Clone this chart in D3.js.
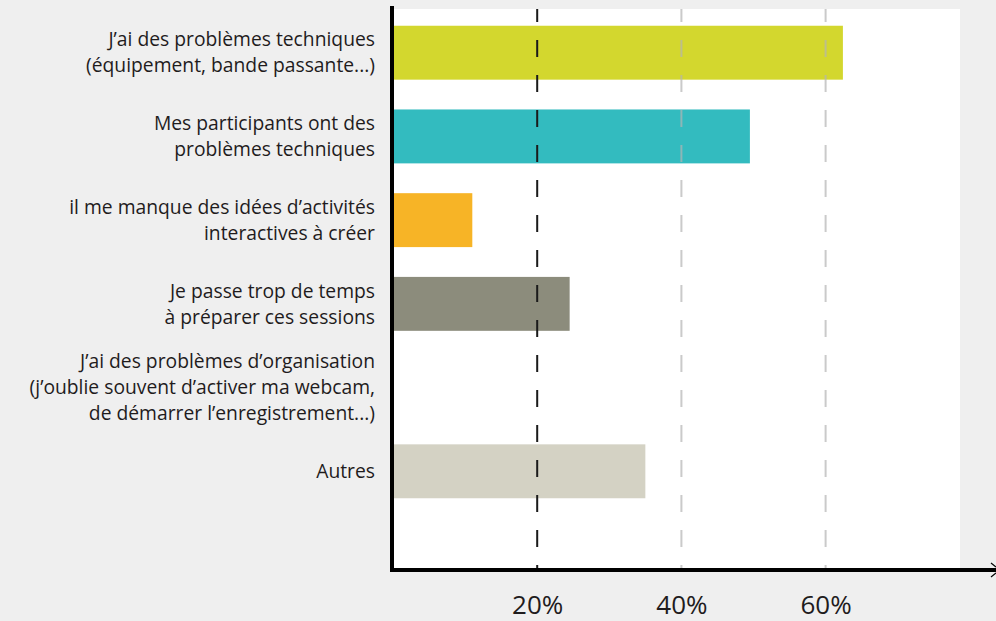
<!DOCTYPE html>
<html>
<head>
<meta charset="utf-8">
<script src="https://cdn.jsdelivr.net/npm/d3@7"></script>
<style>
body { margin: 0; background: #efefef; }
svg { display: block; font-family: "Open Sans", sans-serif; }
.label { font-size: 19.3px; fill: #1f1c1d; }
.xaxis text { font-size: 26px; fill: #1f1c1d; font-family: "Open Sans", sans-serif; }
</style>
</head>
<body>
<svg width="996" height="621"></svg>
<script>
var categories = [
  "J’ai des problèmes techniques\n(équipement, bande passante...)",
  "Mes participants ont des\nproblèmes techniques",
  "il me manque des idées d’activités\ninteractives à créer",
  "Je passe trop de temps\nà préparer ces sessions",
  "J’ai des problèmes d’organisation\n(j’oublie souvent d’activer ma webcam,\nde démarrer l’enregistrement...)",
  "Autres"
];
var values = [62.4, 49.5, 11, 24.5, 0, 35];
var colors = ["#d3d72e", "#33bbbf", "#f7b426", "#8c8c7c", "#d4d2c4", "#d4d2c4"];
var tickValues = [20, 40, 60];
var tickColors = ["#1a1a1a", "#b4b4b4", "#b4b4b4"];

var svg = d3.select("svg");
var plotTop = 9, plotBottom = 570, plotLeft = 393, plotRight = 960;

var x = d3.scaleLinear().domain([0, 80]).range([plotLeft, plotLeft + 80 * 7.21]);
var y = d3.scaleBand().domain(categories).range([plotTop, 515])
  .paddingInner(0.356).paddingOuter(0.2);

// white plot panel
svg.append("rect")
  .attr("x", plotLeft).attr("y", plotTop)
  .attr("width", plotRight - plotLeft).attr("height", plotBottom - plotTop)
  .attr("fill", "#fff");

var data = categories.map(function(c, i) {
  return {cat: c, val: values[i], color: colors[i]};
});

svg.selectAll(".bar")
  .data(data)
  .enter()
  .append("rect")
  .attr("class", "bar")
  .attr("x", x(0))
  .attr("y", (d) => y(d.cat))
  .attr("width", (d) => x(d.val) - x(0))
  .attr("height", y.bandwidth())
  .attr("fill", (d) => d.color);

// dashed gridlines, drawn over the bars
svg.selectAll(".grid")
  .data(tickValues)
  .enter()
  .append("line")
  .attr("class", "grid")
  .attr("x1", (d) => x(d)).attr("x2", (d) => x(d))
  .attr("y1", plotTop).attr("y2", plotBottom)
  .attr("stroke", (d, i) => tickColors[i])
  .attr("stroke-opacity", (d, i) => i == 0 ? 1 : 0.7)
  .attr("stroke-width", 2)
  .attr("stroke-dasharray", "17,18")
  .attr("stroke-dashoffset", 4);

// category labels, right aligned, one text per line
var lineH = 26;
svg.selectAll(".label")
  .data(data)
  .enter()
  .append("g")
  .attr("class", "label")
  .each(function(d) {
    var lines = d.cat.split("\n");
    var cy = y(d.cat) + y.bandwidth() / 2;
    var g = d3.select(this);
    lines.forEach(function(l, i) {
      g.append("text")
        .attr("text-anchor", "end")
        .attr("x", 375)
        .attr("y", cy + (i - (lines.length - 1) / 2) * lineH)
        .attr("dy", "0.35em")
        .text(l);
    });
  });

// x axis labels
var xAxis = svg.append("g")
  .attr("class", "xaxis")
  .attr("transform", "translate(0," + plotBottom + ")")
  .call(d3.axisBottom(x).tickValues(tickValues)
    .tickFormat((d) => d + "%").tickSize(0).tickPadding(26));
xAxis.select(".domain").remove();

// heavy axis lines
svg.append("line")
  .attr("x1", x(0) - 1).attr("x2", x(0) - 1)
  .attr("y1", 6).attr("y2", plotBottom + 2)
  .attr("stroke", "#000").attr("stroke-width", 4);
svg.append("line")
  .attr("x1", x(0) - 3).attr("x2", 996)
  .attr("y1", plotBottom).attr("y2", plotBottom)
  .attr("stroke", "#000").attr("stroke-width", 4);
svg.append("path")
  .attr("d", "M991,563 L996,567 M991,577 L996,573")
  .attr("stroke", "#000").attr("stroke-width", 1.2).attr("fill", "none");
</script>
</body>
</html>
